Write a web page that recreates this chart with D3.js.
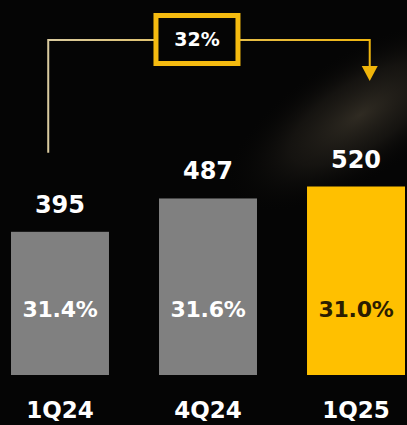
<!DOCTYPE html>
<html>
<head>
<meta charset="utf-8">
<script src="https://cdn.jsdelivr.net/npm/d3@7"></script>
<style>
  html, body { margin: 0; padding: 0; background: #050505; }
  svg { display: block; }
</style>
</head>
<body>
<div id="chart"></div>
<script>
const quarters = ['1Q24', '4Q24', '1Q25'];
const values = [395, 487, 520];
const shares = ['31.4%', '31.6%', '31.0%'];
const barColors = ['#808080', '#808080', '#ffc000'];
const shareColors = ['#ffffff', '#ffffff', '#2b1d00'];
const growthLabel = '32%';

const width = 407, height = 425;
const font = '"DejaVu Sans", sans-serif';

const svg = d3.select('#chart').append('svg')
    .attr('width', width)
    .attr('height', height);

const defs = svg.append('defs');

// soft warm glow in the background
const glow = defs.append('radialGradient').attr('id', 'bgGlow');
glow.append('stop').attr('offset', '0%').attr('stop-color', '#5a5140').attr('stop-opacity', 0.5);
glow.append('stop').attr('offset', '50%').attr('stop-color', '#3a342a').attr('stop-opacity', 0.3);
glow.append('stop').attr('offset', '100%').attr('stop-color', '#000').attr('stop-opacity', 0);

const lineGrad = defs.append('linearGradient')
    .attr('id', 'lineGrad')
    .attr('gradientUnits', 'userSpaceOnUse')
    .attr('x1', 40).attr('x2', 380).attr('y1', 0).attr('y2', 0);
lineGrad.append('stop').attr('offset', '0%').attr('stop-color', '#d9cba3');
lineGrad.append('stop').attr('offset', '100%').attr('stop-color', '#f0b50a');

svg.append('rect').attr('width', width).attr('height', height).attr('fill', '#050505');
svg.append('ellipse')
    .attr('cx', 360).attr('cy', 115)
    .attr('rx', 160).attr('ry', 65)
    .attr('transform', 'rotate(-32,360,115)')
    .attr('fill', 'url(#bgGlow)');

// scales
const x = d3.scaleBand()
    .domain(quarters)
    .range([11, 405])
    .paddingInner(0.338)
    .paddingOuter(0);

const y = d3.scaleLinear()
    .domain([0, 600])
    .range([375, 375 - 0.3625 * 600]);

const data = quarters.map((q, i) => ({ q, v: values[i], share: shares[i], i }));

// bars
svg.selectAll('.bar')
    .data(data)
    .join('rect')
    .attr('class', 'bar')
    .attr('x', d => x(d.q))
    .attr('y', d => y(d.v))
    .attr('width', x.bandwidth())
    .attr('height', d => y(0) - y(d.v))
    .attr('fill', d => barColors[d.i]);

// value labels
svg.selectAll('.val')
    .data(data)
    .join('text')
    .attr('class', 'val')
    .attr('x', d => x(d.q) + x.bandwidth() / 2)
    .attr('y', d => y(d.v) - 19)
    .attr('text-anchor', 'middle')
    .attr('font-family', font)
    .attr('font-weight', 'bold')
    .attr('font-size', 24)
    .attr('fill', '#ffffff')
    .text(d => d.v);

// share labels inside bars
svg.selectAll('.share')
    .data(data)
    .join('text')
    .attr('class', 'share')
    .attr('x', d => x(d.q) + x.bandwidth() / 2)
    .attr('y', 317)
    .attr('text-anchor', 'middle')
    .attr('font-family', font)
    .attr('font-weight', 'bold')
    .attr('font-size', 22)
    .attr('letter-spacing', -0.3)
    .attr('fill', d => shareColors[d.i])
    .text(d => d.share);

// category labels
svg.selectAll('.cat')
    .data(data)
    .join('text')
    .attr('class', 'cat')
    .attr('x', d => x(d.q) + x.bandwidth() / 2)
    .attr('y', 418)
    .attr('text-anchor', 'middle')
    .attr('font-family', font)
    .attr('font-weight', 'bold')
    .attr('font-size', 23)
    .attr('fill', '#ffffff')
    .text(d => d.q);

// growth bracket from first to last quarter
const lx = x(quarters[0]) + x.bandwidth() * 0.38;
const rx = x(quarters[2]) + x.bandwidth() * 0.64;
const topY = 40;

svg.append('path')
    .attr('d', `M${lx},${y(values[0]) - 79} V${topY} H${rx} V${topY + 30}`)
    .attr('fill', 'none')
    .attr('stroke', 'url(#lineGrad)')
    .attr('stroke-width', 2);

svg.append('path')
    .attr('d', `M${rx - 8},${topY + 26} L${rx + 8},${topY + 26} L${rx},${topY + 41} Z`)
    .attr('fill', '#f0b50a');

const bx = (lx + rx) / 2 - 12;
svg.append('rect')
    .attr('x', bx - 41)
    .attr('y', 15.5)
    .attr('width', 82)
    .attr('height', 48)
    .attr('fill', '#050505')
    .attr('stroke', '#f5bb10')
    .attr('stroke-width', 5);

svg.append('text')
    .attr('x', bx)
    .attr('y', 46)
    .attr('text-anchor', 'middle')
    .attr('font-family', font)
    .attr('font-weight', 'bold')
    .attr('font-size', 19)
    .attr('fill', '#ffffff')
    .text(growthLabel);
</script>
</body>
</html>
